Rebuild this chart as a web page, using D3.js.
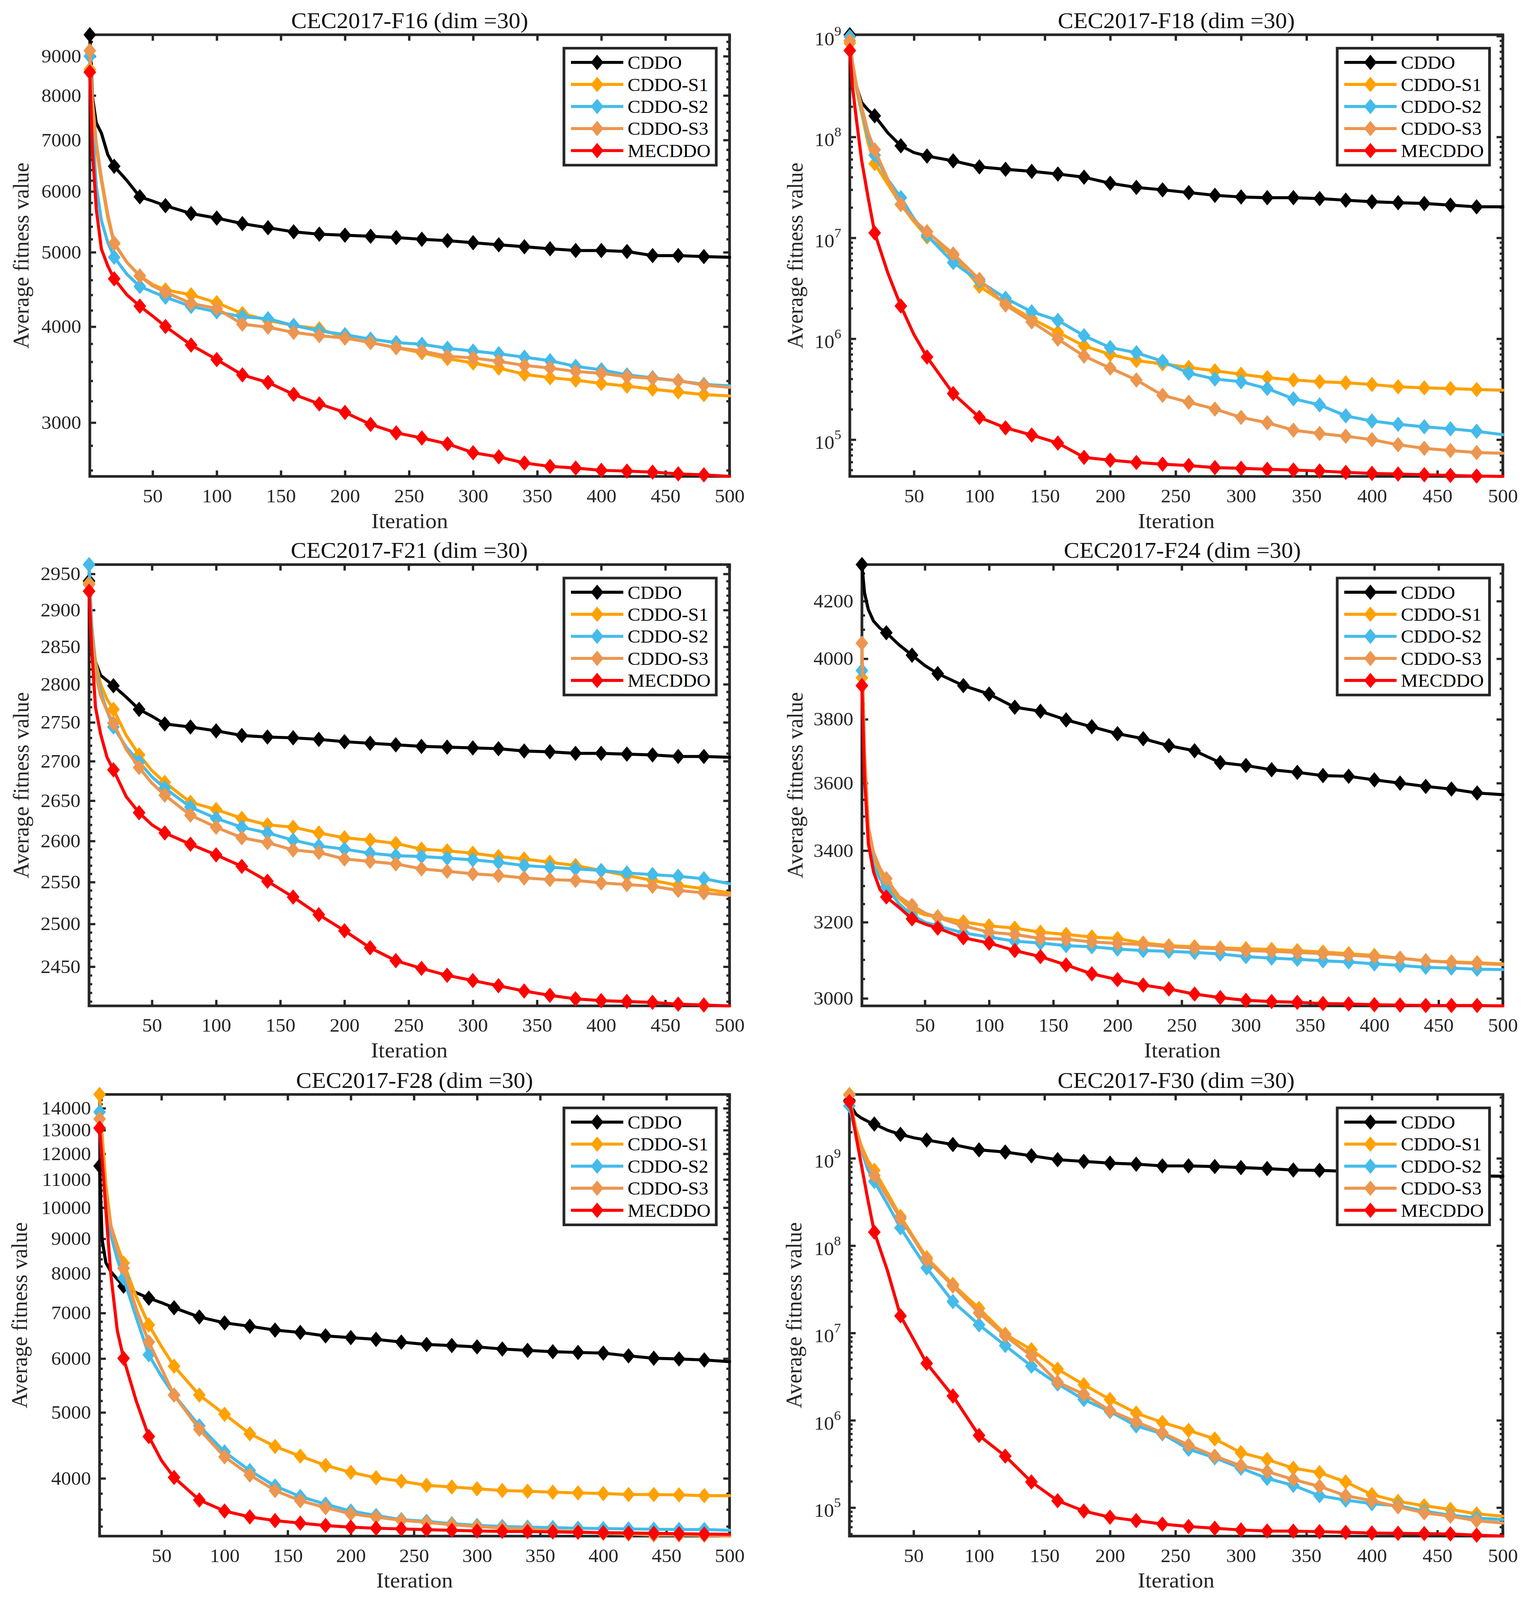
<!DOCTYPE html>
<html>
<head>
<meta charset="utf-8">
<script src="https://cdn.jsdelivr.net/npm/d3@7"></script>
<style>
  html, body { margin: 0; padding: 0; background: #fff; overflow: hidden; }
  svg { display: block; }
  text { font-family: "Liberation Serif", "Times New Roman", serif; }
</style>
</head>
<body>
<div id="chart"></div>
<script>
const iters = [1, 3, 6, 10, 15, 20, 30, 40, 50, 60, 80, 100, 120, 140, 160, 180, 200,
  220, 240, 260, 280, 300, 320, 340, 360, 380, 400, 420, 440, 460, 480, 500];

const seriesNames = ["CDDO", "CDDO-S1", "CDDO-S2", "CDDO-S3", "MECDDO"];
const seriesColors = ["#000000", "#FFA100", "#44BBEA", "#EC964F", "#FF0000"];
const titles = ["CEC2017-F16 (dim =30)", "CEC2017-F18 (dim =30)", "CEC2017-F21 (dim =30)",
  "CEC2017-F24 (dim =30)", "CEC2017-F28 (dim =30)", "CEC2017-F30 (dim =30)"];
const xTicks = [50, 100, 150, 200, 250, 300, 350, 400, 450, 500];

// F16
const f16Cddo = [9598,7980,7370,7150,6700,6470,6197,5904,5829,5749,5615,5539,5448,5381,5316,5278,5262,5245,5225,5198,5177,5145,5113,5083,5052,5026,5026,5011,4950,4950,4935,4925];
const f16S1 = [8650,7800,6850,6200,5550,5130,4850,4656,4540,4467,4401,4298,4160,4076,4014,3974,3873,3814,3756,3699,3635,3587,3533,3468,3432,3408,3374,3347,3316,3289,3263,3250];
const f16S2 = [9000,7300,6100,5500,5150,4925,4680,4513,4440,4370,4250,4182,4120,4096,4014,3950,3905,3853,3814,3794,3749,3718,3688,3650,3612,3551,3515,3461,3432,3401,3364,3350];
const f16S3 = [9150,7900,6950,6250,5600,5140,4850,4656,4520,4435,4289,4224,4030,3993,3932,3893,3865,3814,3756,3718,3661,3642,3605,3561,3533,3497,3478,3443,3425,3401,3357,3334];
const f16Me = [8580,6800,5700,5050,4800,4617,4400,4254,4130,4002,3786,3624,3461,3384,3265,3173,3093,2984,2909,2865,2815,2741,2707,2658,2631,2618,2600,2594,2586,2573,2565,2553];

// F18
const f18Cddo = [1.03e9,5.0e8,3.2e8,2.2e8,1.85e8,1.62e8,1.1e8,8.17e7,7.0e7,6.47e7,5.8e7,5.05e7,4.78e7,4.56e7,4.29e7,3.99e7,3.47e7,3.16e7,2.99e7,2.81e7,2.64e7,2.54e7,2.5e7,2.5e7,2.45e7,2.36e7,2.28e7,2.23e7,2.19e7,2.11e7,2.03e7,2.03e7];
const f18S1 = [8.5e8,5.0e8,3.0e8,1.74e8,8.7e7,5.45e7,3.4e7,2.14e7,1.45e7,1.02e7,6.67e6,3.31e6,2.24e6,1.58e6,1.16e6,8.49e5,7.0e5,6.08e5,5.63e5,5.2e5,4.81e5,4.45e5,4.12e5,3.9e5,3.75e5,3.66e5,3.52e5,3.34e5,3.26e5,3.21e5,3.14e5,3.09e5];
const f18S2 = [9.85e8,5.5e8,3.2e8,1.9e8,1.0e8,6.6e7,3.8e7,2.5e7,1.55e7,1.06e7,5.7e6,3.72e6,2.52e6,1.85e6,1.52e6,1.07e6,8.17e5,7.26e5,5.98e5,4.56e5,3.99e5,3.75e5,3.21e5,2.54e5,2.21e5,1.72e5,1.53e5,1.42e5,1.34e5,1.28e5,1.21e5,1.12e5];
const f18S3 = [9.0e8,5.5e8,3.3e8,2.0e8,1.1e8,7.45e7,3.8e7,2.14e7,1.5e7,1.15e7,6.93e6,3.87e6,2.16e6,1.47e6,9.93e5,6.73e5,5.12e5,3.9e5,2.75e5,2.35e5,2.01e5,1.66e5,1.47e5,1.24e5,1.15e5,1.08e5,1.0e5,8.9e4,8.2e4,7.8e4,7.44e4,7.33e4];
const f18Me = [7.2e8,3.2e8,1.5e8,5.9e7,2.5e7,1.12e7,4.5e6,2.11e6,1.1e6,6.58e5,2.86e5,1.66e5,1.31e5,1.11e5,9.25e4,6.67e4,6.26e4,5.94e4,5.71e4,5.54e4,5.28e4,5.2e4,5.08e4,5.0e4,4.89e4,4.74e4,4.63e4,4.56e4,4.49e4,4.42e4,4.35e4,4.32e4];

// F21
const f21Cddo = [2940,2870,2830,2812,2805,2798,2783,2767,2758,2748,2744,2739,2733,2731,2730,2728,2725,2723,2721,2719,2718,2717,2716,2713,2712,2710,2710,2709,2708,2706,2706,2705];
const f21S1 = [2937,2880,2830,2800,2780,2767,2733,2708,2688,2673,2648,2639,2628,2620,2617,2610,2604,2601,2597,2590,2588,2585,2581,2578,2574,2570,2564,2558,2552,2546,2542,2537];
const f21S2 = [2963,2880,2820,2790,2765,2744,2718,2699,2680,2666,2642,2628,2617,2610,2601,2594,2590,2585,2582,2581,2579,2577,2574,2570,2568,2566,2564,2561,2559,2557,2554,2548];
const f21S3 = [2935,2870,2815,2785,2765,2749,2715,2692,2672,2657,2632,2617,2604,2598,2589,2586,2578,2575,2572,2566,2563,2560,2558,2555,2553,2552,2549,2547,2545,2540,2537,2534];
const f21Me = [2926,2850,2770,2735,2705,2689,2655,2635,2620,2610,2596,2583,2569,2551,2532,2511,2492,2472,2457,2448,2440,2434,2428,2422,2417,2413,2411,2410,2409,2407,2406,2405];

// F24
const f24Cddo = [4332,4230,4170,4130,4105,4089,4047,4012,3977,3950,3910,3882,3839,3826,3798,3776,3754,3738,3716,3700,3663,3654,3641,3633,3623,3621,3610,3600,3590,3582,3570,3565];
const f24S1 = [3936,3680,3460,3385,3340,3308,3265,3233,3220,3215,3201,3190,3184,3173,3167,3160,3156,3144,3137,3134,3131,3129,3127,3124,3120,3116,3111,3104,3097,3094,3092,3089];
const f24S2 = [3960,3650,3440,3360,3320,3298,3250,3219,3200,3190,3171,3160,3149,3144,3137,3134,3128,3124,3122,3119,3115,3108,3104,3101,3097,3094,3089,3085,3080,3078,3075,3074];
const f24S3 = [4053,3700,3470,3395,3350,3320,3270,3246,3225,3213,3190,3173,3167,3156,3154,3147,3143,3140,3134,3131,3129,3124,3122,3119,3116,3112,3108,3104,3097,3093,3090,3087];
const f24Me = [3910,3620,3420,3340,3290,3269,3240,3209,3195,3184,3158,3144,3124,3108,3086,3063,3048,3034,3024,3011,3002,2995,2992,2990,2987,2986,2984,2983,2982,2982,2982,2981];

// F28
const f28Cddo = [11514,8972,8300,8050,7850,7666,7500,7362,7250,7126,6906,6771,6693,6608,6555,6479,6441,6404,6345,6293,6271,6242,6198,6169,6141,6126,6112,6056,6007,5993,5972,5938];
const f28S1 = [14670,12800,10800,9400,8800,8290,7400,6724,6250,5847,5303,4970,4652,4456,4313,4180,4083,4008,3962,3907,3885,3862,3839,3830,3817,3808,3800,3787,3787,3782,3773,3773];
const f28S2 = [13822,12000,10300,9100,8400,7877,6900,6077,5650,5303,4778,4374,4107,3898,3761,3666,3581,3528,3479,3459,3431,3411,3399,3391,3387,3379,3375,3371,3368,3364,3364,3356];
const f28S3 = [13504,12000,10400,9400,8700,8147,7100,6345,5800,5303,4723,4303,4046,3839,3709,3623,3548,3508,3471,3447,3419,3399,3379,3371,3352,3341,3321,3313,3302,3302,3298,3290];
const f28Me = [13090,11800,9900,7950,6600,6006,5200,4609,4250,4012,3718,3581,3511,3467,3438,3410,3391,3379,3371,3363,3355,3348,3343,3341,3337,3333,3329,3325,3321,3317,3313,3310];

// F30
const f30Cddo = [4.6e9,3.8e9,3.2e9,2.9e9,2.65e9,2.47e9,2.1e9,1.88e9,1.72e9,1.62e9,1.44e9,1.25e9,1.18e9,1.07e9,9.65e8,9.22e8,8.81e8,8.58e8,8.19e8,8.19e8,8.05e8,7.84e8,7.63e8,7.35e8,7.28e8,7.1e8,6.9e8,6.8e8,6.7e8,6.5e8,6.3e8,6.24e8];
const f30S1 = [5.39e9,3.5e9,2.2e9,1.4e9,9.5e8,7.28e8,4.0e8,2.16e8,1.25e8,7.3e7,3.6e7,1.91e7,9.68e6,6.44e6,3.85e6,2.56e6,1.73e6,1.21e6,9.45e5,7.67e5,6.12e5,4.26e5,3.56e5,2.83e5,2.52e5,1.97e5,1.41e5,1.18e5,1.05e5,9.56e4,8.49e4,7.98e4];
const f30S2 = [4.0e9,2.9e9,1.9e9,1.25e9,7.5e8,5.45e8,3.0e8,1.6e8,9.4e7,5.56e7,2.29e7,1.24e7,7.18e6,4.17e6,2.61e6,1.73e6,1.26e6,8.63e5,7.01e5,4.67e5,3.72e5,2.83e5,2.16e5,1.8e5,1.37e5,1.22e5,1.11e5,1.05e5,9.14e4,8.19e4,7.62e4,7.28e4];
const f30S3 = [5.3e9,3.4e9,2.1e9,1.3e9,8.6e8,6.36e8,3.6e8,2.05e8,1.2e8,6.92e7,3.45e7,1.7e7,9.26e6,5.47e6,2.73e6,1.99e6,1.29e6,9.63e5,7.2e5,5.2e5,3.89e5,3.02e5,2.59e5,2.1e5,1.75e5,1.37e5,1.2e5,1.02e5,8.73e4,7.98e4,7.08e4,6.66e4];
const f30Me = [4.46e9,3.2e9,1.8e9,8.6e8,3.4e8,1.43e8,5.2e7,1.57e7,8.45e6,4.49e6,1.9e6,6.7e5,3.89e5,1.97e5,1.2e5,9.14e4,7.77e4,7.1e4,6.48e4,6.08e4,5.81e4,5.55e4,5.4e4,5.38e4,5.31e4,5.21e4,5.12e4,5.08e4,5.04e4,5.0e4,4.84e4,4.72e4];

// y tick labels of each panel
const f16Ticks = [3000, 4000, 5000, 6000, 7000, 8000, 9000];
const f18Ticks = [1e5, 1e6, 1e7, 1e8, 1e9];
const f21Ticks = [2450, 2500, 2550, 2600, 2650, 2700, 2750, 2800, 2850, 2900, 2950];
const f24Ticks = [3000, 3200, 3400, 3600, 3800, 4000, 4200];
const f28Ticks = [4000, 5000, 6000, 7000, 8000, 9000, 10000, 11000, 12000, 13000, 14000];
const f30Ticks = [1e5, 1e6, 1e7, 1e8, 1e9];

const panels = [
  { values: [f16Cddo, f16S1, f16S2, f16S3, f16Me], ticks: f16Ticks, minor: 200 },
  { values: [f18Cddo, f18S1, f18S2, f18S3, f18Me], ticks: f18Ticks, minor: "log" },
  { values: [f21Cddo, f21S1, f21S2, f21S3, f21Me], ticks: f21Ticks, minor: 10 },
  { values: [f24Cddo, f24S1, f24S2, f24S3, f24Me], ticks: f24Ticks, minor: 50 },
  { values: [f28Cddo, f28S1, f28S2, f28S3, f28Me], ticks: f28Ticks, minor: 200 },
  { values: [f30Cddo, f30S1, f30S2, f30S3, f30Me], ticks: f30Ticks, minor: "log" }
];

// plot boxes in page pixels
const layout = [
  { left: 230, right: 1868, top: 93, bottom: 1275, ylabX: 73 },
  { left: 2176, right: 3848, top: 93, bottom: 1275, ylabX: 2055 },
  { left: 228, right: 1868, top: 1511, bottom: 2692, ylabX: 73 },
  { left: 2207, right: 3848, top: 1511, bottom: 2692, ylabX: 2055 },
  { left: 255, right: 1868, top: 2929, bottom: 4111, ylabX: 69 },
  { left: 2175, right: 3848, top: 2929, bottom: 4111, ylabX: 2052 }
];

const width = 3933, height = 4282;
const axisColor = "#262626";
const diamond = "M0,-19L15,0L0,19L-15,0Z";

// the drawing keeps its 3933x4282 coordinates and is fitted to the window
const svg = d3.select("#chart").append("svg")
  .attr("viewBox", `0 0 ${width} ${height}`)
  .attr("preserveAspectRatio", "none")
  .style("width", "100vw")
  .style("height", "100vh")
  .style("background", "#fff");

function minorTicks(domain, step, majors) {
  const lo = domain[0], hi = domain[1];
  let out = [];
  if (step === "log") {
    for (let k = Math.floor(Math.log10(lo)); k <= Math.ceil(Math.log10(hi)); k++) {
      for (let m = 2; m <= 9; m++) out.push(m * Math.pow(10, k));
    }
  } else {
    out = d3.range(Math.ceil(lo / step) * step, hi, step);
  }
  return out.filter(v => v >= lo && v <= hi && !majors.includes(v));
}

function styleAxis(sel, fontSize) {
  sel.attr("color", axisColor)
    .attr("font-size", fontSize)
    .attr("font-family", '"Liberation Serif", "Times New Roman", serif');
  sel.select(".domain").remove();
  sel.selectAll(".tick line").attr("stroke-width", 6);
}

panels.forEach(function(p, i) {
  const L = layout[i];
  const g = svg.append("g");

  const x = d3.scaleLinear().domain([1, 500]).range([L.left, L.right]);
  const y = d3.scaleLog().domain(d3.extent(p.values.flat())).range([L.bottom, L.top]);
  const minors = minorTicks(y.domain(), p.minor, p.ticks);
  const isLog = p.minor === "log";

  // x axes, ticks pointing inward
  g.append("g").attr("transform", `translate(0,${L.bottom})`)
    .call(d3.axisBottom(x).tickValues(xTicks).tickSizeInner(-16).tickSizeOuter(0).tickPadding(33))
    .call(s => styleAxis(s, 51));
  g.append("g").attr("transform", `translate(0,${L.top})`)
    .call(d3.axisTop(x).tickValues(xTicks).tickFormat("").tickSizeInner(-16).tickSizeOuter(0))
    .call(s => styleAxis(s, 51));

  // y axes
  const left = g.append("g").attr("transform", `translate(${L.left},0)`)
    .call(d3.axisLeft(y).tickValues(p.ticks).tickSizeInner(-16).tickSizeOuter(0).tickPadding(22)
      .tickFormat(d => isLog ? "" : String(d)))
    .call(s => styleAxis(s, 51));
  if (isLog) {
    left.selectAll(".tick text").each(function(d) {
      const t = d3.select(this).attr("dy", "0.48em");
      t.append("tspan").text("10");
      t.append("tspan").attr("font-size", 35).attr("dy", "-0.75em")
        .text(Math.round(Math.log10(d)));
    });
  }
  g.append("g").attr("transform", `translate(${L.left},0)`)
    .call(d3.axisLeft(y).tickValues(minors).tickFormat("").tickSizeInner(-8).tickSizeOuter(0))
    .call(s => styleAxis(s, 51));
  g.append("g").attr("transform", `translate(${L.right},0)`)
    .call(d3.axisRight(y).tickValues(p.ticks).tickFormat("").tickSizeInner(-16).tickSizeOuter(0))
    .call(s => styleAxis(s, 51));
  g.append("g").attr("transform", `translate(${L.right},0)`)
    .call(d3.axisRight(y).tickValues(minors).tickFormat("").tickSizeInner(-8).tickSizeOuter(0))
    .call(s => styleAxis(s, 51));

  // frame
  g.append("rect")
    .attr("x", L.left).attr("y", L.top)
    .attr("width", L.right - L.left).attr("height", L.bottom - L.top)
    .attr("fill", "none").attr("stroke", axisColor).attr("stroke-width", 7);

  // curves
  const line = d3.line().x((d, j) => x(iters[j])).y(d => y(d));
  p.values.forEach(function(vals, s) {
    g.append("path")
      .datum(vals)
      .attr("d", line)
      .attr("fill", "none")
      .attr("stroke", seriesColors[s])
      .attr("stroke-width", 8)
      .attr("stroke-linejoin", "round")
      .attr("stroke-linecap", "round");
    const marks = vals.map((v, j) => ({ it: iters[j], v: v }))
      .filter(d => d.it === 1 || (d.it % 20 === 0 && d.it <= 480));
    g.append("g").selectAll("path")
      .data(marks)
      .join("path")
      .attr("d", diamond)
      .attr("transform", d => `translate(${x(d.it)},${y(d.v)})`)
      .attr("fill", seriesColors[s])
      .attr("stroke", seriesColors[s])
      .attr("stroke-width", 2);
  });

  // title and axis labels
  g.append("text")
    .attr("x", (L.left + L.right) / 2).attr("y", L.top - 18)
    .attr("text-anchor", "middle").attr("font-size", 60).attr("fill", "#111")
    .text(titles[i]);
  g.append("text")
    .attr("x", (L.left + L.right) / 2).attr("y", L.bottom + 138)
    .attr("text-anchor", "middle").attr("font-size", 58).attr("fill", axisColor)
    .text("Iteration");
  g.append("text")
    .attr("transform", `translate(${L.ylabX},${(L.top + L.bottom) / 2}) rotate(-90)`)
    .attr("text-anchor", "middle").attr("font-size", 58).attr("fill", axisColor)
    .text("Average fitness value");

  // legend
  const lg = g.append("g").attr("transform", `translate(${L.right - 34 - 390},${L.top + 36})`);
  lg.append("rect").attr("width", 390).attr("height", 313)
    .attr("fill", "#fff").attr("stroke", axisColor).attr("stroke-width", 7);
  seriesNames.forEach(function(name, s) {
    const cy = 38 + s * 59;
    lg.append("line").attr("x1", 18).attr("x2", 152).attr("y1", cy).attr("y2", cy)
      .attr("stroke", seriesColors[s]).attr("stroke-width", 8);
    lg.append("path").attr("d", diamond).attr("transform", `translate(85,${cy})`)
      .attr("fill", seriesColors[s]).attr("stroke", seriesColors[s]).attr("stroke-width", 2);
    lg.append("text").attr("x", 163).attr("y", cy).attr("dy", "0.35em")
      .attr("font-size", 49).attr("fill", "#000").text(name);
  });
});
</script>
</body>
</html>
